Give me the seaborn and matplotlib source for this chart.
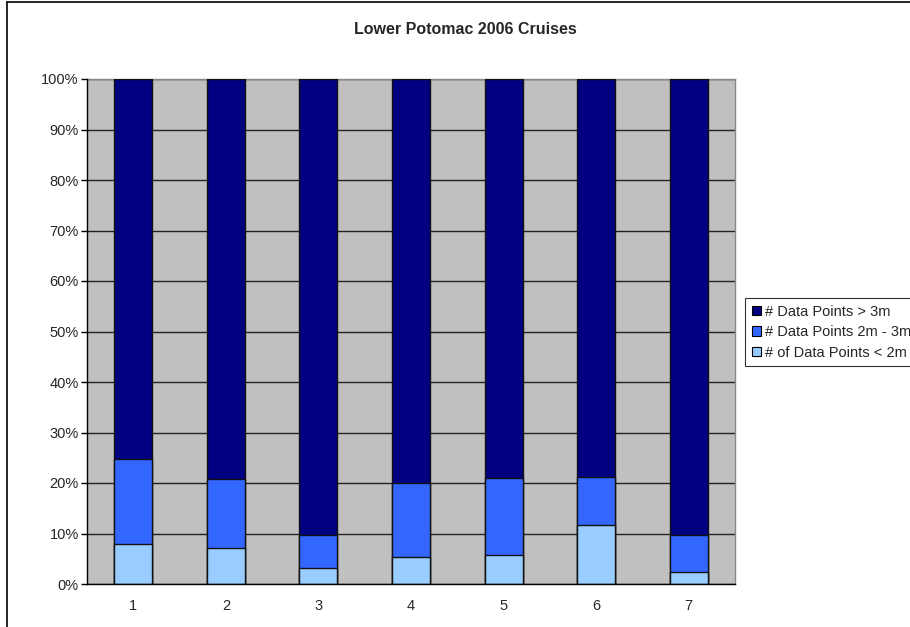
import matplotlib
matplotlib.use("Agg")
import matplotlib.pyplot as plt
import seaborn as sns
import pandas as pd
import numpy as np
from matplotlib.lines import Line2D
from matplotlib.patches import Patch

cruises = ["1", "2", "3", "4", "5", "6", "7"]
pct_lt2 = [7.9, 7.1, 3.2, 5.3, 5.7, 11.7, 2.4]
pct_2to3 = [16.8, 13.6, 6.5, 14.7, 15.3, 9.4, 7.3]
pct_gt3 = [75.3, 79.3, 90.3, 80.0, 79.0, 78.9, 90.3]

series_names = ["# Data Points > 3m", "# Data Points 2m - 3m", "# of Data Points < 2m"]
colors = ["#000080", "#3366FF", "#99CCFF"]

sns.set_theme(style="white")
plt.rcParams["font.family"] = ["Liberation Sans", "DejaVu Sans"]

df = pd.DataFrame({"cruise": cruises, "lt2": pct_lt2, "mid": pct_2to3, "gt3": pct_gt3})
df["c_lt2"] = df["lt2"]
df["c_mid"] = df["lt2"] + df["mid"]
df["c_gt3"] = df["lt2"] + df["mid"] + df["gt3"]

fig = plt.figure(figsize=(9.1, 6.27), dpi=100)
ax = fig.add_axes([87/910, 43/627, 648/910, 505/627])
ax.set_facecolor("#C0C0C0")

for col, c in zip(["c_gt3", "c_mid", "c_lt2"], colors):
    sns.barplot(data=df, x="cruise", y=col, color=c, width=0.41,
                edgecolor="#111111", linewidth=1.0, saturation=1, ax=ax, zorder=3)

ax.set_ylim(0, 100)
ax.set_xlim(-0.5, 6.5)
ax.set_yticks(np.arange(0, 101, 10))
ax.set_yticklabels([f"{v}%" for v in range(0, 101, 10)], fontsize=10.5)
ax.set_xticks(range(7))
ax.set_xticklabels(cruises, fontsize=10.5)
ax.set_xticks(np.arange(-0.5, 7, 1), minor=True)
ax.tick_params(axis="x", which="major", length=0, pad=11)
ax.tick_params(axis="x", which="minor", length=4, width=1, color="black", direction="out")
ax.tick_params(axis="y", length=4, width=1, color="black", direction="out", left=True, pad=2)
ax.yaxis.grid(True, color="#222222", linewidth=1.0, zorder=1)
ax.set_axisbelow(True)
ax.set_xlabel("")
ax.set_ylabel("")
for s in ["top", "right"]:
    ax.spines[s].set_color("#888888")
    ax.spines[s].set_linewidth(1.0)
for s in ["left", "bottom"]:
    ax.spines[s].set_color("black")
    ax.spines[s].set_linewidth(1.0)
    ax.spines[s].set_zorder(5)

fig.text(465/910, 1 - 30/627, "Lower Potomac 2006 Cruises", ha="center", va="center",
         fontsize=11.5, fontweight="bold")

handles = [Patch(facecolor=c, edgecolor="black", linewidth=0.8) for c in colors]
leg = fig.legend(handles, series_names, loc="upper left",
                 bbox_to_anchor=(745/910, 1 - 298/627), fontsize=10.5,
                 frameon=True, fancybox=False, edgecolor="black",
                 handlelength=0.65, handleheight=0.65, handletextpad=0.25,
                 borderpad=0.45, labelspacing=0.45, borderaxespad=0)
leg.get_frame().set_linewidth(0.8)

fig.add_artist(Line2D([7/910, 1], [1 - 2/627, 1 - 2/627], transform=fig.transFigure,
                      color="black", linewidth=1.2))
fig.add_artist(Line2D([7/910, 7/910], [0, 1 - 2/627], transform=fig.transFigure,
                      color="black", linewidth=1.2))

fig.savefig("out.png", dpi=100)
